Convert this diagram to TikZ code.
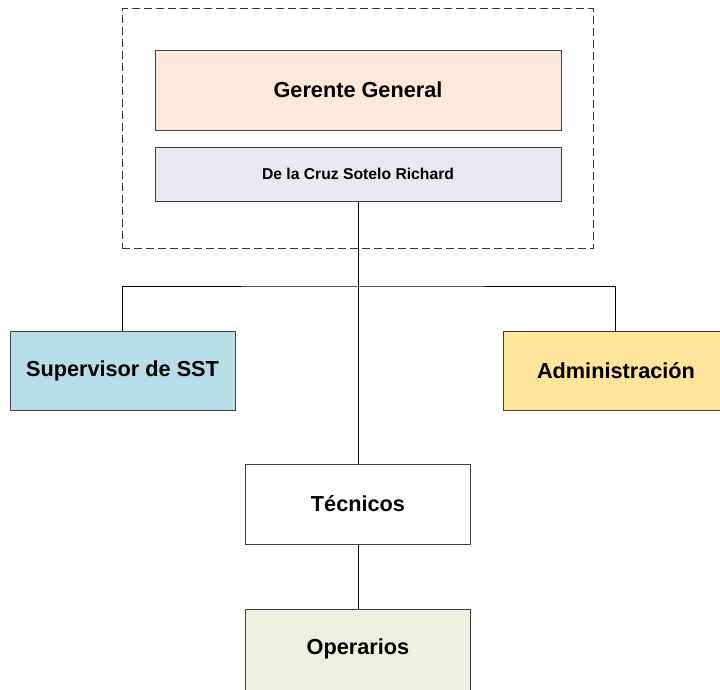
\documentclass[tikz,border=0pt]{standalone}
\usepackage{fontspec}
\setmainfont{Liberation Sans}
\begin{document}
\begin{tikzpicture}[x=1pt,y=-1pt,
  box/.style={draw=black!75, line width=1pt, rectangle, inner sep=0pt, align=center,
    font=\fontsize{21.7}{26}\selectfont\bfseries},
  conn/.style={draw=black, line width=1pt},
  grp/.style={draw=black!80, line width=0.9pt, dash pattern=on 8pt off 4pt}]
\clip (0,0) rectangle (720,689);
\fill[white] (0,0) rectangle (720,689);
\definecolor{cger}{HTML}{FCE9DB}
\definecolor{cdel}{HTML}{EBE8F0}
\definecolor{csup}{HTML}{B7DDE8}
\definecolor{cadm}{HTML}{FDE49B}
\definecolor{cope}{HTML}{EBF1DE}
\node[grp, minimum width=471pt, minimum height=240pt, rectangle] (grupo) at (357.5,128.5) {};
\node[box, fill=cger, minimum width=406pt, minimum height=80pt] (ger) at (358,90) {Gerente General};
\node[box, fill=cdel, minimum width=406pt, minimum height=54pt,
  font=\fontsize{15.7}{19}\selectfont\bfseries] (del) at (358,174) {De la Cruz Sotelo Richard};
\node[box, fill=csup, minimum width=225pt, minimum height=79pt] (sup) at (122.5,370.5) {Supervisor de SST};
\node[box, fill=cadm, minimum width=225pt, minimum height=79pt] (adm) at (615.5,370.5) {};
\node[font=\fontsize{21.7}{26}\selectfont\bfseries] (admt) at (616,370.5) {Administración};
\node[box, fill=white, minimum width=225pt, minimum height=80pt] (tec) at (358,504) {Técnicos};
\node[box, fill=cope, minimum width=225pt, minimum height=84pt] (ope) at (358,651) {};
\node[font=\fontsize{21.7}{26}\selectfont\bfseries] (opet) at (358,649) {Operarios};
\coordinate (j) at (358,286);
\draw[conn] (del.south) -- (tec.north);
\draw[conn] (sup.north) |- (j) -| (adm.north);
\draw[conn] (tec.south) -- (ope.north);
\end{tikzpicture}
\end{document}
